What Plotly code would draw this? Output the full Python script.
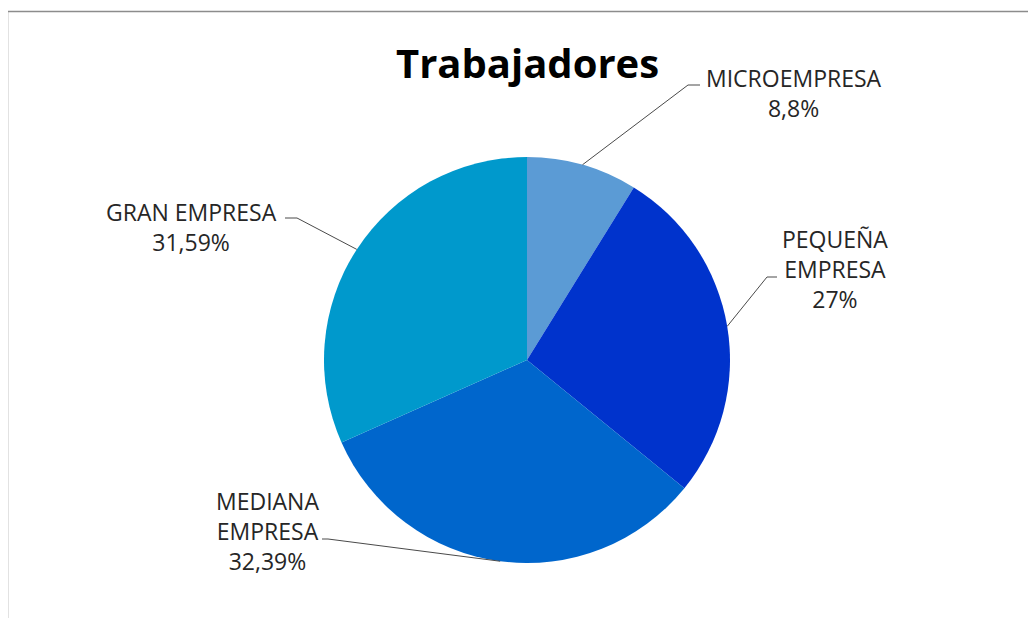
import math
import plotly.graph_objects as go

categories = ["MICROEMPRESA", "PEQUEÑA EMPRESA", "MEDIANA EMPRESA", "GRAN EMPRESA"]
values = [8.8, 27, 32.39, 31.59]
value_labels = ["8,8%", "27%", "32,39%", "31,59%"]
label_text = ["MICROEMPRESA<br>8,8%", "PEQUEÑA<br>EMPRESA<br>27%",
              "MEDIANA<br>EMPRESA<br>32,39%", "GRAN EMPRESA<br>31,59%"]
colors = ["#5B9BD5", "#0033CC", "#0066CC", "#0099CC"]

# page body has an 8px margin; design in screen pixels and offset
OFF = 8
W, H = 1028, 610
CX, CY, R = 527, 360, 203

def px(x):
    return (x - OFF) / W

def py(y):
    return 1 - (y - OFF) / H

fig = go.Figure(go.Pie(
    labels=categories, values=values, sort=False, direction="clockwise",
    rotation=0, marker=dict(colors=colors, line=dict(width=0)),
    textinfo="none", hoverinfo="skip", showlegend=False,
    domain=dict(x=[px(CX - R), px(CX + R)], y=[py(CY + R), py(CY - R)]),
))

# label placement (layout), leader elbows
label_pos = [(794, 93), (835, 269), (267, 531), (191, 227)]
elbows = [((688, 85), (700, 85)), ((767, 277), (777, 277)),
          ((328, 539), (322, 539)), ((297, 218), (285, 218))]

total = sum(values)
cum = 0
shapes = []
for i, v in enumerate(values):
    mid = (cum + v / 2) / total * 2 * math.pi
    cum += v
    sx = CX + R * math.sin(mid)
    sy = CY - R * math.cos(mid)
    (ex, ey), (hx, hy) = elbows[i]
    path = f"M {px(sx)} {py(sy)} L {px(ex)} {py(ey)} L {px(hx)} {py(hy)}"
    shapes.append(dict(type="path", xref="paper", yref="paper", path=path,
                       line=dict(color="#4a4a4a", width=1)))

# outer border
shapes.append(dict(type="rect", xref="paper", yref="paper",
                   x0=px(7.5), y0=-0.05, x1=1.05, y1=py(11.5),
                   line=dict(color="#8c8c8c", width=1.5), fillcolor="rgba(0,0,0,0)"))

annotations = []
for (lx, ly), t in zip(label_pos, label_text):
    annotations.append(dict(x=px(lx), y=py(ly), xref="paper", yref="paper",
                            text=t, showarrow=False, xanchor="center", yanchor="middle",
                            align="center",
                            font=dict(family="Open Sans", size=23, color="#262626")))

annotations.append(dict(x=px(527), y=py(62), xref="paper", yref="paper",
                        text="<b>Trabajadores</b>", showarrow=False,
                        xanchor="center", yanchor="middle",
                        font=dict(family="Open Sans", size=40, color="#000000")))

fig.update_layout(
    width=W, height=H, margin=dict(l=0, r=0, t=0, b=0),
    paper_bgcolor="white", plot_bgcolor="white",
    shapes=shapes, annotations=annotations,
)

fig.write_html("out.html")
